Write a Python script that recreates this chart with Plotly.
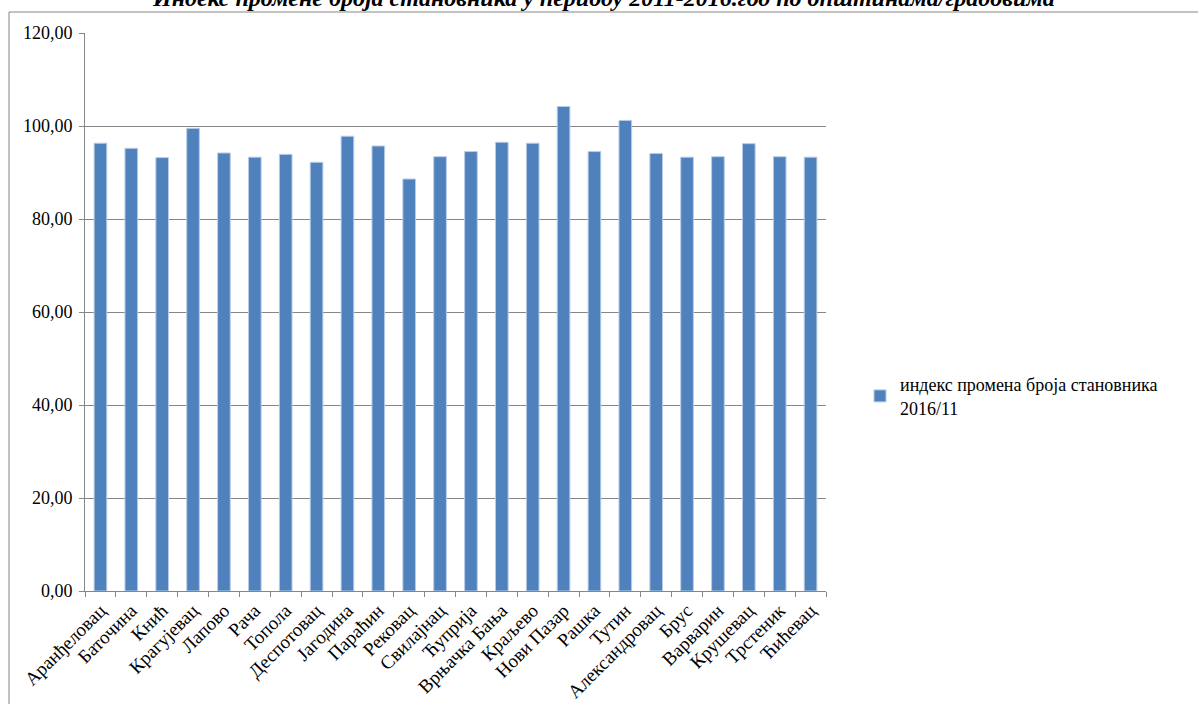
import plotly.graph_objects as go

categories = ["Аранђеловац", "Баточина", "Кнић", "Крагујевац", "Лапово", "Рача", "Топола",
              "Деспотовац", "Јагодина", "Параћин", "Рековац", "Свилајнац", "Ћуприја",
              "Врњачка Бања", "Краљево", "Нови Пазар", "Рашка", "Тутин", "Александровац",
              "Брус", "Варварин", "Крушевац", "Трстеник", "Ћићевац"]
values = [96.3, 95.2, 93.2, 99.5, 94.2, 93.3, 93.9, 92.2, 97.8, 95.7, 88.6, 93.4, 94.5,
          96.5, 96.3, 104.2, 94.5, 101.2, 94.1, 93.3, 93.4, 96.2, 93.4, 93.3]
series_name = "индекс промена броја становника<br>2016/11"
title_text = "Индекс промене броја становника у периоду 2011-2016.год по општинама/градовима"
y_ticks = [0, 20, 40, 60, 80, 100, 120]

W, H = 1198, 704
L, R, T, B = 85, 372, 33, 113
pw, ph = W - L - R, H - T - B

def px_x(x):
    return (x - L) / pw

def px_y(y):
    return (H - B - y) / ph

font = "Liberation Serif, Times New Roman, serif"

fig = go.Figure()
fig.add_trace(go.Bar(
    x=categories, y=values, name=series_name,
    marker=dict(color="#4F81BD", line=dict(color="#B9CDE5", width=1)),
))

fig.update_layout(
    width=W, height=H,
    margin=dict(l=L, r=R, t=T, b=B, autoexpand=False),
    paper_bgcolor="white", plot_bgcolor="white",
    separators=", ",
    bargap=0.59,
    showlegend=True,
    font=dict(family=font, size=18, color="black"),
    legend=dict(x=px_x(860), y=px_y(396), xanchor="left", yanchor="middle",
                font=dict(family=font, size=18, color="black"),
                bgcolor="rgba(0,0,0,0)", itemwidth=30),
    xaxis=dict(type="category", showline=True, linecolor="#868686", linewidth=1,
               ticks="outside", tickson="boundaries", ticklen=5, tickcolor="#868686",
               tickangle=-45, tickfont=dict(family=font, size=19, color="black"),
               showgrid=False, automargin=False),
    yaxis=dict(range=[0, 120], tickvals=y_ticks, tickformat=".2f",
               showline=True, linecolor="#868686", linewidth=1,
               ticks="outside", ticklen=5, tickcolor="#868686",
               gridcolor="#868686", gridwidth=1, zeroline=False,
               ticklabelstandoff=3, automargin=False,
               tickfont=dict(family=font, size=18, color="black")),
    annotations=[dict(text="<b><i>" + title_text + "</i></b>", xref="paper", yref="paper",
                      x=px_x(603), y=px_y(-2), xanchor="center", yanchor="middle",
                      showarrow=False, font=dict(family=font, size=24, color="black"))],
    shapes=[
        dict(type="line", xref="paper", yref="paper", x0=px_x(9), x1=px_x(9),
             y0=px_y(12), y1=px_y(704), line=dict(color="#868686", width=1)),
        dict(type="line", xref="paper", yref="paper", x0=px_x(9), x1=px_x(1198),
             y0=px_y(12), y1=px_y(12), line=dict(color="#868686", width=1)),
    ],
)

fig.write_html("out.html", config={"displayModeBar": False},
               post_script="document.body.style.margin='0';")
